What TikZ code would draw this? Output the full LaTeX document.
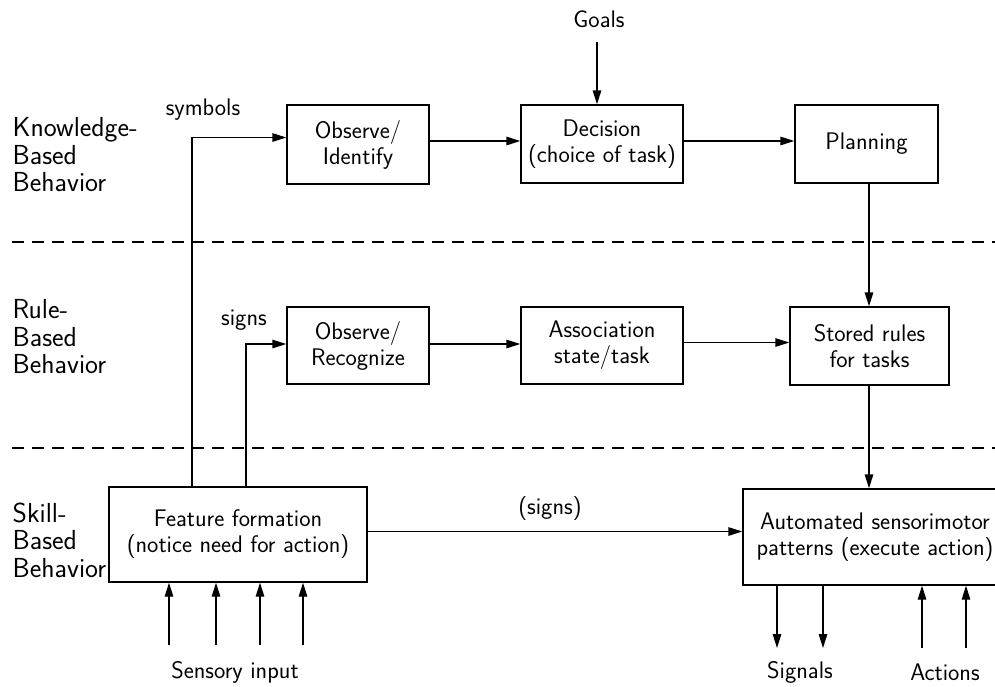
\documentclass[tikz,border=0pt]{standalone}
\usetikzlibrary{arrows.meta}
\begin{document}
\begin{tikzpicture}[x=1pt,y=-1pt,
  font=\sffamily\fontsize{24}{26}\selectfont,
  line width=1.4pt,
  >={Triangle[length=14pt,width=8.5pt]},
  blk/.style={draw,align=center,inner sep=0pt},
  lbl/.style={align=left,anchor=west,inner sep=0pt,font=\sffamily\fontsize{27.5}{27.5}\selectfont},
  dsh/.style={dash pattern=on 12pt off 8pt}]
\clip (0,0) rectangle (995,686);
\useasboundingbox (0,0) rectangle (995,686);
% level labels
\node[lbl] (kb) at (12,155) {Knowledge-\\Based\\Behavior};
\node[lbl] (rb) at (12,337) {Rule-\\Based\\Behavior};
\node[lbl] (sb) at (12,540) {Skill-\\Based\\Behavior};
% dashed separators
\coordinate (d1a) at (12,242); \coordinate (d1b) at (995,242);
\coordinate (d2a) at (12,448); \coordinate (d2b) at (995,448);
\draw[dsh] (d1a) -- (d1b);
\draw[dsh] (d2a) -- (d2b);
% boxes
\node[blk,minimum width=142,minimum height=79] (obsid) at (358,144.5) {Observe/\\Identify};
\node[blk,minimum width=162,minimum height=78] (dec) at (602,144) {Decision\\(choice of task)};
\node[blk,minimum width=143,minimum height=78] (plan) at (866.5,144) {Planning};
\node[blk,minimum width=142,minimum height=77] (obsrec) at (358,345.5) {Observe/\\Recognize};
\node[blk,minimum width=162,minimum height=77] (assoc) at (602,345.5) {Association\\state/task};
\node[blk,minimum width=159,minimum height=78] (stored) at (869.5,346) {Stored rules\\for tasks};
\node[blk,minimum width=258,minimum height=95] (feat) at (238,534.5) {Feature formation\\(notice need for action)};
\node[blk,minimum width=264,minimum height=96] (auto) at (875,537) {Automated sensorimotor\\patterns (execute action)};
% free texts
\node (goals) at (599,19) {Goals};
\node (sym) at (203,110) {symbols};
\node (sgn) at (244,320) {signs};
\node (sgn2) at (550,509) {(signs)};
\node (sens) at (235,672) {Sensory input};
\node (sig) at (800,672) {Signals};
\node (act) at (945,672) {Actions};
% connectors
\coordinate (gx) at (597,42);
\draw[->] (gx) -- (gx |- dec.north);
\draw[->] ([yshift=3.5pt]obsid.east) -- ([yshift=3.5pt]obsid.east -| dec.west);
\draw[->] ([yshift=3pt]dec.east) -- ([yshift=3pt]dec.east -| plan.west);
\coordinate (symx) at (192,0);
\coordinate (sgnx) at (246,0);
\draw[->] (feat.north -| symx) |- ([yshift=7pt]obsid.west);
\draw[->] (feat.north -| sgnx) |- ([yshift=1.5pt]obsrec.west);
\draw[->] ([yshift=1.5pt]obsrec.east) -- ([yshift=1.5pt]obsrec.east -| assoc.west);
\draw[->] ([yshift=3pt]assoc.east) -- ([yshift=3pt]assoc.east -| stored.west);
\coordinate (vx) at (869,0);
\draw[->] (plan.south -| vx) -- (stored.north -| vx);
\draw[->] (stored.south -| vx) -- (auto.north -| vx);
\draw[->] ([yshift=3pt]feat.east) -- ([yshift=3pt]feat.east -| auto.west);
% sensory inputs
\foreach \x/\n in {169/a,216/b,260/c,303/d}{
  \coordinate (s\n) at (\x,645);
  \draw[->] (s\n) -- (s\n |- feat.south);
}
% signals
\foreach \x/\n in {777/a,823/b}{
  \coordinate (g\n) at (\x,648);
  \draw[->] (g\n |- auto.south) -- (g\n);
}
% actions
\foreach \x/\n in {922/a,966/b}{
  \coordinate (c\n) at (\x,648);
  \draw[->] (c\n) -- (c\n |- auto.south);
}
\end{tikzpicture}
\end{document}
